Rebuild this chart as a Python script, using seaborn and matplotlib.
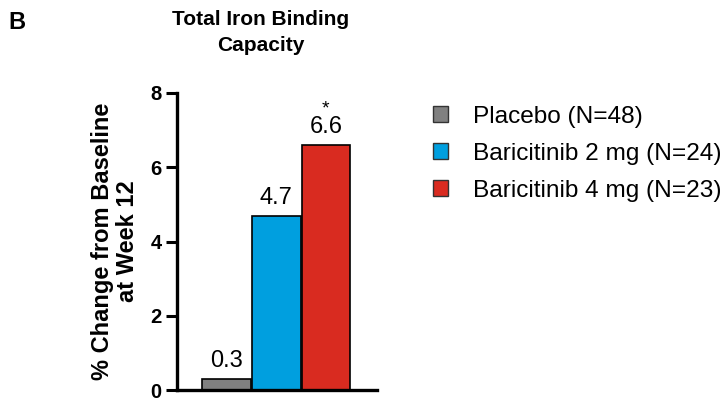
import matplotlib
matplotlib.use("Agg")
import matplotlib.pyplot as plt
from matplotlib.patches import Patch
import seaborn as sns
import pandas as pd

groups = ["Placebo (N=48)", "Baricitinib 2 mg (N=24)", "Baricitinib 4 mg (N=23)"]
values = [0.3, 4.7, 6.6]
value_labels = ["0.3", "4.7", "6.6"]
significance = ["", "", "*"]
colors = ["#808080", "#009fdf", "#d92b20"]
yticks = [0, 2, 4, 6, 8]

sns.set_theme(style="ticks")
plt.rcParams["font.family"] = ["Liberation Sans", "DejaVu Sans"]
plt.rcParams["text.color"] = "black"
plt.rcParams["axes.labelcolor"] = "black"
plt.rcParams["ytick.color"] = "black"

df = pd.DataFrame({"group": groups, "value": values})

fig = plt.figure(figsize=(7.28, 4.0), dpi=100)
ax = fig.add_axes([0.243, 0.025, 0.275, 0.7425])

sns.barplot(data=df, x="group", y="value", hue="group", palette=colors,
            order=groups, hue_order=groups, width=0.98, dodge=False,
            edgecolor="black", linewidth=1.2, saturation=1, legend=False, ax=ax)

ax.set_xlim(-1.0, 3.03)
ax.set_ylim(0, 8)
ax.set_yticks(yticks)
ax.set_yticklabels([str(t) for t in yticks], fontsize=14.5, fontweight="bold")
ax.set_xticks([])
ax.set_xlabel("")
ax.set_ylabel("% Change from Baseline\nat Week 12", fontsize=17, fontweight="bold",
              linespacing=1.15, labelpad=8)
ax.tick_params(axis="y", direction="out", length=8, width=2.2, pad=3, colors="black")
for side in ["top", "right"]:
    ax.spines[side].set_visible(False)
for side in ["left", "bottom"]:
    ax.spines[side].set_linewidth(2.4)
    ax.spines[side].set_color("black")

for i, (v, lab, sig) in enumerate(zip(values, value_labels, significance)):
    ax.annotate(lab, (i, v), xytext=(0, 5), textcoords="offset points",
                ha="center", va="bottom", fontsize=17, color="black")
    if sig:
        ax.annotate(sig, (i, v), xytext=(0, 20), textcoords="offset points",
                    ha="center", va="bottom", fontsize=14, color="black")

fig.text(261 / 728, 1 - 10 / 400, "Total Iron Binding\nCapacity", ha="center", va="top",
         fontsize=15, fontweight="bold", linespacing=1.45)
fig.text(8 / 728, 1 - 11 / 400, "B", ha="left", va="top", fontsize=17, fontweight="bold")

handles = [Patch(facecolor=c, edgecolor="#333333", linewidth=1.0) for c in colors]
fig.legend(handles, groups, loc="upper left", bbox_to_anchor=(433 / 728, 1 - 106 / 400),
           frameon=False, fontsize=17.6, handlelength=0.62, handleheight=0.62,
           handletextpad=1.0, labelspacing=0.61, borderaxespad=0, borderpad=0)

fig.savefig("out.png", dpi=100)
